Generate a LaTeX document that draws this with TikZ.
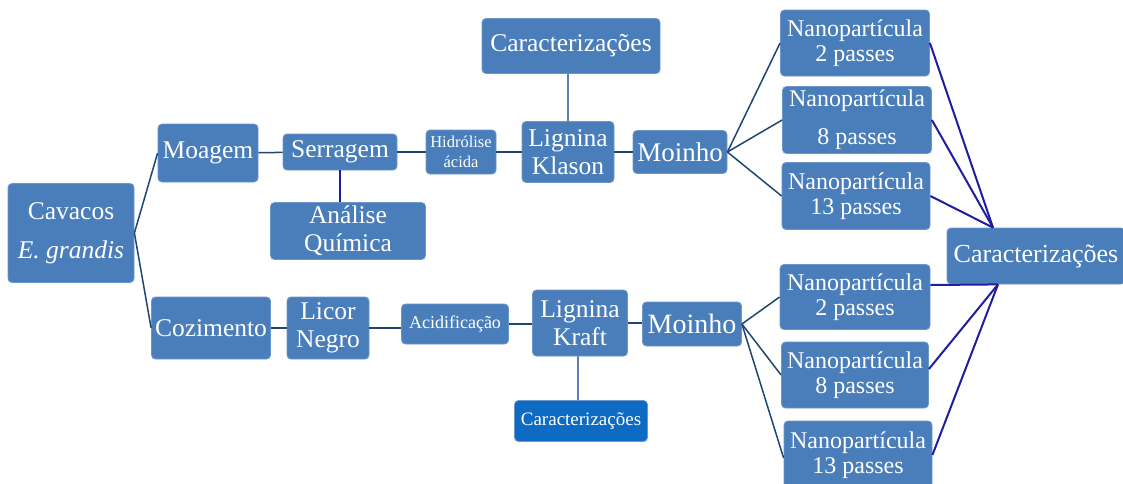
\documentclass[tikz,border=0pt]{standalone}
\usepackage{fontspec}
\setmainfont{Liberation Serif}
\usetikzlibrary{calc}
\definecolor{boxfill}{HTML}{4A7EBB}
\definecolor{boxedge}{HTML}{6C97CC}
\definecolor{brightbox}{HTML}{0D6BC3}
\definecolor{darkline}{HTML}{1F4673}
\definecolor{blueline}{HTML}{1E1E9E}
\definecolor{lightline}{HTML}{5B80B1}
\begin{document}
\begin{tikzpicture}[x=1pt,y=-1pt,
  box/.style={draw=boxedge, fill=boxfill, rounded corners=4pt, text=white, align=center, inner sep=0pt, line width=0.8pt},
  bbox/.style={box, fill=brightbox},
  sz/.style 2 args={minimum width=#1pt, minimum height=#2pt},
  fA/.style={font=\fontsize{25.5}{28}\selectfont},
  fN/.style={font=\fontsize{24}{25}\selectfont},
  fM/.style={font=\fontsize{27}{30}\selectfont},
  dl/.style={draw=darkline, line width=1.5pt},
  bl/.style={draw=blueline, line width=2pt},
  ll/.style={draw=lightline, line width=2pt}]
\useasboundingbox (0,0) rectangle (1123,483);
\fill[white] (0,0) rectangle (1123,483);
% nodes
\node[box,fA,sz={126}{99}] (cav) at (71,233) {\raisebox{-4pt}{Cavacos}\\[11pt]\raisebox{-4pt}{\textit{E. grandis}}};
\node[box,fA,sz={100}{58}] (moa) at (208,153) {Moagem};
\node[box,fA,sz={114}{36}] (ser) at (340,152) {Serragem};
\node[box,fA,sz={155}{57}] (ana) at (348,231) {Análise\\Química};
\node[box,font=\fontsize{16.5}{20}\selectfont,sz={70}{44}] (hid) at (461,152) {Hidrólise\\ácida};
\node[box,fA,sz={92}{61}] (kla) at (568,152) {Lignina\\Klason};
\node[box,fA,sz={178}{55}] (ctop) at (571,46) {Caracterizações};
\node[box,fM,sz={94}{43}] (mo1) at (680,152) {Moinho};
\node[box,fN,sz={149}{66}] (n12) at (855,43) {Nanopartícula\\2 passes};
\node[box,fN,sz={149}{67}] (n18) at (857,120) {Nanopartícula\\[13pt]8 passes};
\node[box,fN,sz={148}{67}] (n113) at (856,196) {Nanopartícula\\13 passes};
\node[box,font=\fontsize{26}{28}\selectfont,sz={178}{56}] (cr) at (1036,256) {Caracterizações};
\node[box,fA,sz={119}{62}] (coz) at (211,328) {Cozimento};
\node[box,fA,sz={82}{62}] (lic) at (328,328) {Licor\\Negro};
\node[box,font=\fontsize{18}{20}\selectfont,sz={107}{40}] (aci) at (455,324) {Acidificação};
\node[box,fA,sz={95}{66}] (kra) at (580,323) {Lignina\\Kraft};
\node[bbox,font=\fontsize{19}{21}\selectfont,sz={133}{41}] (cbot) at (581,421) {Caracterizações};
\node[box,font=\fontsize{28}{30}\selectfont,sz={99}{44}] (mo2) at (692,324) {Moinho};
\node[box,fN,sz={150}{65}] (n22) at (855,297) {Nanopartícula\\2 passes};
\node[box,fN,sz={147}{66}] (n28) at (855,375) {Nanopartícula\\8 passes};
\node[box,fN,sz={148}{68}] (n213) at (858,455) {Nanopartícula\\13 passes};
% convergence points
\coordinate (crt) at ([xshift=-43pt]cr.north);
\coordinate (crb) at ([xshift=-38pt]cr.south);
% connectors
\draw[dl] (cav.east) -- (moa.west);
\draw[dl] (cav.east) -- (coz.west);
\draw[dl] (moa) -- (ser);
\draw[dl] (ser) -- (hid);
\draw[dl] (hid) -- (kla);
\draw[dl] (kla) -- (mo1);
\draw[bl] (ser.south) -- (ser.south |- ana.north);
\draw[ll] (ctop.south -| kla.north) -- (kla.north);
\draw[dl] (mo1.east) -- (n12.west);
\draw[dl] (mo1.east) -- (n18.west);
\draw[dl] (mo1.east) -- (n113.west);
\draw[bl] (n12.east) -- (crt);
\draw[bl] (n18.east) -- (crt);
\draw[bl] (n113.east) -- (crt);
\draw[dl] (coz) -- (lic);
\draw[dl] (lic.east) -- (lic.east -| aci.west);
\draw[dl] (aci) -- (aci -| kra.west);
\draw[dl] (kra.east) -- (kra.east -| mo2.west);
\draw[ll] ([xshift=-2pt]kra.south) -- ([xshift=-2pt]kra.south |- cbot.north);
\draw[dl] (mo2.east) -- (n22.west);
\draw[dl] (mo2.east) -- (n28.west);
\draw[dl] (mo2.east) -- ([yshift=-3pt]n213.west);
\draw[bl] ([yshift=12pt]n22.east) -- (crb);
\draw[bl] ([yshift=6pt]n28.east) -- (crb);
\draw[bl] (n213.east) -- (crb);
\end{tikzpicture}
\end{document}
